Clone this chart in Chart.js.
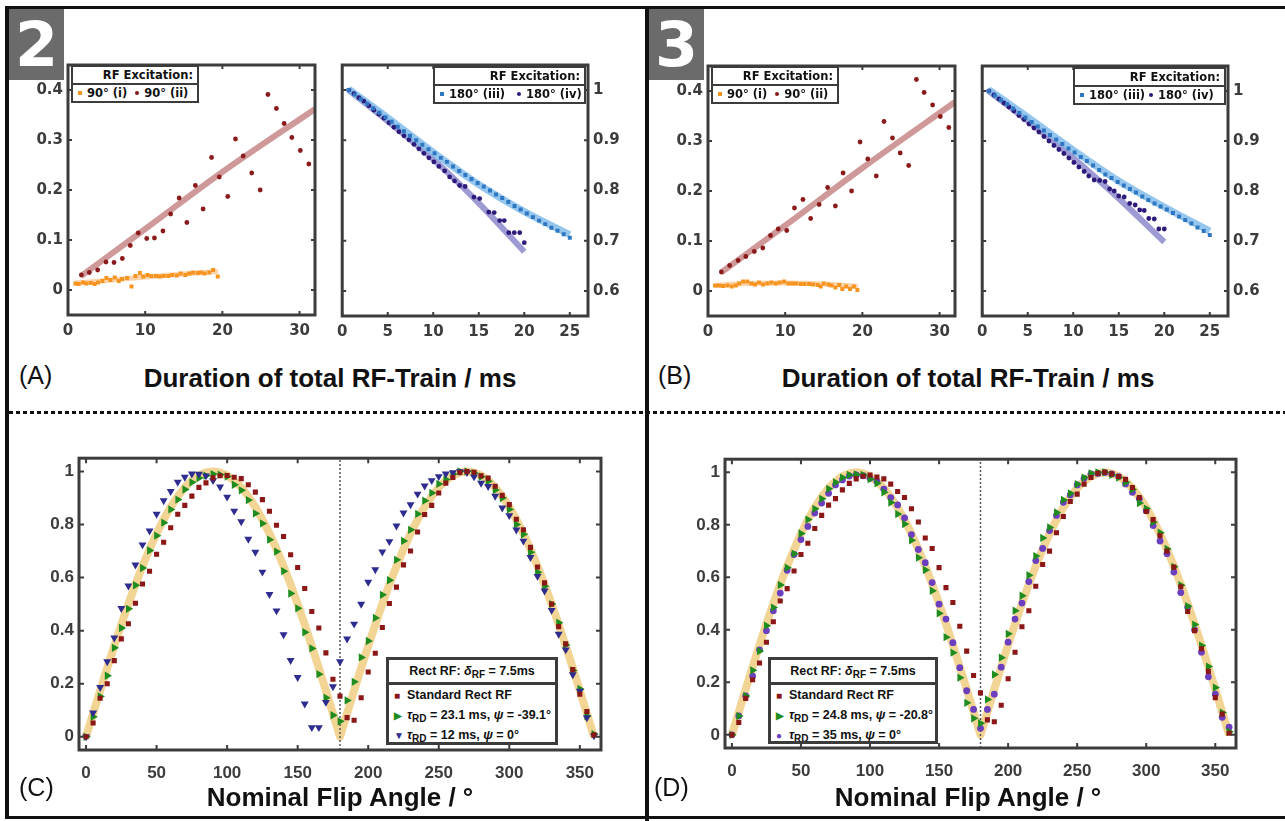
<!DOCTYPE html>
<html>
<head>
<meta charset="utf-8">
<title>RF train decay and flip angle response</title>
<script src="https://cdn.jsdelivr.net/npm/chart.js@4.4.1/dist/chart.umd.min.js"></script>
<style>
  html, body { margin: 0; padding: 0; background: #fff; }
  #page { position: relative; width: 1285px; height: 821px; overflow: hidden; background: #fff; font-family: "Liberation Sans", Arial, sans-serif; color: #111; }
  #page canvas { position: absolute; }
  .rule { position: absolute; background: #111; }
  .dots { position: absolute; height: 3px; background: repeating-linear-gradient(to right, #111 0 4px, transparent 4px 7px); }
  .badge { position: absolute; width: 55px; height: 71px; background: #6b6b6b; color: #fff; font: bold 62px "DejaVu Sans", sans-serif; text-align: center; line-height: 71px; }
  .tag { position: absolute; font-size: 25px; line-height: 28px; }
  .xtitle { position: absolute; font-weight: bold; font-size: 26px; line-height: 30px; white-space: nowrap; transform: translateX(-50%); }
  .lg { position: absolute; box-sizing: border-box; background: #fff; border: 2px solid #3c3c3c; font: bold 11.5px "DejaVu Sans", sans-serif; white-space: nowrap; }
  .lg .t { height: 16px; line-height: 16px; border-bottom: 2px solid #3c3c3c; text-align: right; padding-right: 4px; }
  .lg .r { height: 17px; line-height: 17px; padding-left: 5px; }
  .lg .m { display: inline-block; width: 4px; height: 4px; vertical-align: 2px; margin-right: 5px; }
  .lg .c { border-radius: 50%; }
  .lg2 { position: absolute; box-sizing: border-box; background: #fff; border: 3px solid #3c3c3c; font: bold 12.5px "Liberation Sans", Arial, sans-serif; white-space: nowrap; overflow: hidden; }
  .lg2 .t { height: 22px; line-height: 22px; border-bottom: 3px solid #3c3c3c; text-align: center; }
  .lg2 .r { height: 20px; line-height: 20px; padding-left: 5px; }
  .lg2 .m { display: inline-block; width: 13px; font-size: 10px; }
  .lg2 sub { font-size: 10px; vertical-align: -3px; line-height: 0; }
</style>
</head>
<body>
<div id="page">
  <div class="rule" style="left:5px;top:6px;width:1280px;height:3px"></div>
  <div class="rule" style="left:5px;top:6px;width:4px;height:813px"></div>
  <div class="rule" style="left:645px;top:6px;width:4px;height:815px"></div>
  <div class="rule" style="left:5px;top:816px;width:1280px;height:3px"></div>
  <div class="dots" style="left:9px;top:411px;width:1276px"></div>

  <div class="badge" style="left:9px;top:9px">2</div>
  <div class="badge" style="left:649px;top:9px">3</div>

  <canvas id="a1"></canvas>
  <canvas id="a2"></canvas>
  <canvas id="b1"></canvas>
  <canvas id="b2"></canvas>
  <canvas id="c1"></canvas>
  <canvas id="d1"></canvas>

  <div class="tag" style="left:19px;top:361px">(A)</div>
  <div class="xtitle" style="left:330px;top:363px">Duration of total RF-Train / ms</div>
  <div class="tag" style="left:658px;top:361px">(B)</div>
  <div class="xtitle" style="left:968px;top:363px">Duration of total RF-Train / ms</div>
  <div class="tag" style="left:19px;top:773px">(C)</div>
  <div class="xtitle" style="left:340px;top:782px">Nominal Flip Angle / °</div>
  <div class="tag" style="left:654px;top:773px">(D)</div>
  <div class="xtitle" style="left:968px;top:782px">Nominal Flip Angle / °</div>

  <div class="lg" style="left:71px;top:65px;width:128px;height:38px">
    <div class="t">RF Excitation:</div>
    <div class="r"><span class="m" style="background:#f7931e"></span>90° (i)&nbsp;&nbsp;<span class="m c" style="background:#8b1a1a"></span>90° (ii)</div>
  </div>
  <div class="lg" style="left:433px;top:66px;width:153px;height:38px">
    <div class="t">RF Excitation:</div>
    <div class="r"><span class="m" style="background:#2f76c3"></span>180° (iii)&nbsp;&nbsp;&nbsp;<span class="m c" style="background:#2e1a7a"></span>180° (iv)</div>
  </div>
  <div class="lg" style="left:711px;top:66px;width:128px;height:38px">
    <div class="t">RF Excitation:</div>
    <div class="r"><span class="m" style="background:#f7931e"></span>90° (i)&nbsp;&nbsp;<span class="m c" style="background:#8b1a1a"></span>90° (ii)</div>
  </div>
  <div class="lg" style="left:1073px;top:67px;width:153px;height:38px">
    <div class="t">RF Excitation:</div>
    <div class="r"><span class="m" style="background:#2f76c3"></span>180° (iii)&nbsp;<span class="m c" style="background:#2e1a7a"></span>180° (iv)</div>
  </div>

  <div class="lg2" style="left:386px;top:657px;width:172px;height:88px">
    <div class="t">Rect RF: <i>δ</i><sub>RF</sub> = 7.5ms</div>
    <div class="r"><span class="m" style="color:#8c1717">■</span>Standard Rect RF</div>
    <div class="r"><span class="m" style="color:#1e8c1e">▶</span><i>τ</i><sub>RD</sub> = 23.1 ms, <i>ψ</i> = -39.1°</div>
    <div class="r"><span class="m" style="color:#2f2c8f">▼</span><i>τ</i><sub>RD</sub> = 12 ms, <i>ψ</i> = 0°</div>
  </div>
  <div class="lg2" style="left:768px;top:657px;width:170px;height:87px">
    <div class="t">Rect RF: <i>δ</i><sub>RF</sub> = 7.5ms</div>
    <div class="r"><span class="m" style="color:#8c1717">■</span>Standard Rect RF</div>
    <div class="r"><span class="m" style="color:#1e8c1e">▶</span><i>τ</i><sub>RD</sub> = 24.8 ms, <i>ψ</i> = -20.8°</div>
    <div class="r"><span class="m" style="color:#6b3fc0">●</span><i>τ</i><sub>RD</sub> = 35 ms, <i>ψ</i> = 0°</div>
  </div>
</div>

<script>
// ---- tick labels ----
const durTicks = [0, 10, 20, 30];
const durTicksShort = [0, 5, 10, 15, 20, 25];
const sigTicksLow = [0, 0.1, 0.2, 0.3, 0.4];
const sigTicksHigh = [0.6, 0.7, 0.8, 0.9, 1];
const angleTicks = [0, 50, 100, 150, 200, 250, 300, 350];
const ampTicks = [0, 0.2, 0.4, 0.6, 0.8, 1];

// ---- panel A (set 2) ----
const a90iX = [0.95, 1.39, 1.95, 2.38, 2.94, 3.46, 3.9, 4.46, 4.98, 5.5, 6.06, 6.58, 7.01, 7.66, 8.23, 8.74, 9.31, 9.74, 10.3, 10.8, 11.4, 11.9, 12.4, 13.0, 13.5, 14.1, 14.6, 15.2, 15.7, 16.2, 16.8, 17.2, 17.7, 18.3, 18.8, 19.4];
const a90iY = [.013, .012, .015, .013, .014, .012, .015, .018, .024, .020, .025, .018, .022, .024, .007, .028, .034, .027, .030, .028, .028, .027, .028, .028, .030, .029, .033, .030, .033, .035, .034, .035, .033, .035, .040, .027];
const a90iFitX = [0.9, 5, 10, 15, 19.4];
const a90iFitY = [.014, .019, .026, .032, .037];
const a90iiX = [1.73, 2.76, 3.84, 4.92, 5.96, 7.04, 8.07, 9.1, 10.2, 11.2, 12.3, 13.3, 14.4, 15.4, 16.5, 17.5, 18.6, 19.6, 20.7, 21.7, 22.7, 23.8, 24.9, 25.9, 27.0, 28.0, 29.0, 30.1, 31.2];
const a90iiY = [.030, .035, .040, .056, .055, .063, .089, .114, .103, .104, .118, .152, .184, .135, .209, .162, .265, .226, .187, .302, .268, .234, .200, .391, .363, .333, .305, .279, .252];
const a90iiFitX = [1.7, 10, 20, 32];
const a90iiFitY = [.028, .122, .236, .362];

const a180iiiX = [0.7, 1.38, 2.05, 2.73, 3.4, 4.08, 4.75, 5.43, 6.1, 6.78, 7.45, 8.13, 8.8, 9.48, 10.15, 10.83, 11.5, 12.18, 12.85, 13.53, 14.2, 14.88, 15.55, 16.23, 16.9, 17.58, 18.25, 18.93, 19.6, 20.28, 20.95, 21.63, 22.3, 22.98, 23.65, 24.33, 25.0];
const a180iiiY = [1.0, .991, .982, .973, .964, .955, .946, .937, .927, .918, .909, .9, .891, .882, .874, .865, .857, .848, .839, .831, .823, .815, .808, .8, .792, .785, .777, .769, .762, .754, .747, .74, .733, .726, .72, .713, .706];
const a180iiiFitX = [0.7, 5, 10, 15, 20, 25];
const a180iiiFitY = [1.002, .945, .876, .812, .758, .712];
const a180ivX = [0.73, 1.28, 1.83, 2.38, 2.93, 3.48, 4.03, 4.58, 5.13, 5.68, 6.23, 6.78, 7.33, 7.88, 8.42, 8.97, 9.52, 10.07, 10.62, 11.25, 11.8, 12.34, 12.9, 13.5, 14.47, 15.1, 16.1, 16.7, 17.3, 17.8, 18.3, 18.9, 19.5, 20.0];
const a180ivY = [1.0, .993, .985, .978, .969, .96, .952, .944, .935, .926, .917, .909, .901, .892, .883, .874, .865, .857, .848, .839, .827, .819, .81, .808, .787, .784, .757, .756, .74, .74, .716, .716, .716, .696];
const a180ivFitX = [0.7, 5, 10, 15, 20];
const a180ivFitY = [1.0, .938, .862, .775, .678];

// ---- panel B (set 3) ----
const b90iX = [0.91, 1.43, 1.95, 2.51, 3.07, 3.59, 4.02, 4.54, 5.1, 5.62, 6.09, 6.61, 7.13, 7.69, 8.21, 8.77, 9.29, 9.85, 10.4, 10.9, 11.4, 12.0, 12.5, 13.1, 13.6, 14.2, 14.6, 15.0, 15.6, 16.0, 16.5, 17.0, 17.4, 17.9, 18.4, 18.9, 19.35];
const b90iY = [.011, .011, .010, .011, .009, .011, .015, .019, .019, .015, .013, .017, .013, .015, .017, .015, .017, .019, .015, .015, .015, .014, .014, .014, .013, .012, .009, .015, .013, .011, .007, .012, .004, .009, .004, .009, .002];
const b90iFitX = [0.9, 5, 10, 15, 19.4];
const b90iFitY = [.011, .015, .016, .014, .009];
const b90iiX = [1.73, 2.8, 3.9, 4.9, 6.0, 7.1, 8.1, 9.1, 10.2, 11.2, 12.3, 13.3, 14.4, 15.5, 16.5, 17.5, 18.6, 19.7, 20.7, 21.8, 22.8, 23.9, 24.9, 26.0, 27.0, 28.0, 29.1, 30.1, 31.2];
const b90iiY = [.038, .051, .061, .069, .079, .086, .111, .124, .121, .166, .183, .145, .173, .207, .170, .236, .200, .298, .264, .230, .339, .306, .276, .251, .423, .397, .372, .349, .327];
const b90iiFitX = [1.7, 10, 20, 32];
const b90iiFitY = [.037, .131, .246, .378];

const b180iiiX = a180iiiX;
const b180iiiY = [1.0, .991, .982, .974, .965, .956, .947, .938, .929, .921, .912, .903, .894, .885, .877, .868, .86, .851, .842, .833, .826, .818, .811, .804, .797, .789, .782, .775, .769, .763, .756, .749, .742, .735, .727, .72, .712];
const b180iiiFitX = [0.7, 5, 10, 15, 20, 25];
const b180iiiFitY = [1.003, .948, .882, .82, .768, .72];
const b180ivX = [0.73, 1.28, 1.83, 2.38, 2.93, 3.48, 4.03, 4.58, 5.13, 5.68, 6.23, 6.78, 7.33, 7.88, 8.42, 8.97, 9.52, 10.07, 10.62, 11.2, 11.7, 12.3, 12.9, 13.5, 14.0, 14.5, 15.0, 15.6, 16.2, 16.8, 17.3, 17.8, 18.3, 18.9, 19.4, 20.0];
const b180ivY = [1.0, .992, .984, .976, .968, .96, .951, .943, .934, .926, .918, .909, .9, .891, .883, .875, .866, .857, .848, .839, .83, .822, .821, .819, .804, .80, .79, .788, .775, .772, .762, .761, .745, .744, .724, .724];
const b180ivFitX = [0.7, 5, 10, 15, 20];
const b180ivFitY = [1.0, .94, .866, .785, .698];

// ---- panels C and D: flip angle sweep ----
const angles = [0, 5, 10, 15, 20, 25, 30, 35, 40, 45, 50, 55, 60, 65, 70, 75, 80, 85, 90, 95,
  100, 105, 110, 115, 120, 125, 130, 135, 140, 145, 150, 155, 160, 165, 170, 175, 180, 185, 190, 195,
  200, 205, 210, 215, 220, 225, 230, 235, 240, 245, 250, 255, 260, 265, 270, 275, 280, 285, 290, 295,
  300, 305, 310, 315, 320, 325, 330, 335, 340, 345, 350, 355, 360];
const ideal = [0, .087, .174, .259, .342, .423, .5, .574, .643, .707, .766, .819, .866, .906, .94, .966, .985, .996, 1, .996,
  .985, .966, .94, .906, .866, .819, .766, .707, .643, .574, .5, .423, .342, .259, .174, .087, 0, .087, .174, .259,
  .342, .423, .5, .574, .643, .707, .766, .819, .866, .906, .94, .966, .985, .996, 1, .996, .985, .966, .94, .906,
  .866, .819, .766, .707, .643, .574, .5, .423, .342, .259, .174, .087, 0];
const markerAngle = [180, 180];
const markerSpan = [-0.05, 1.05];

const cRect = [0, .052, .145, .20, .287, .369, .426, .503, .576, .624, .688, .733, .788, .839, .872, .907, .94, .957, .976, .984,
  .985, .978, .973, .95, .922, .894, .85, .797, .755, .686, .638, .559, .472, .41, .316, .217, .153, .072, .062, .147,
  .244, .315, .412, .502, .564, .648, .70, .772, .838, .872, .919, .956, .977, .996, 1.0, .997, .984, .975, .944, .91,
  .875, .82, .78, .714, .64, .58, .50, .415, .35, .253, .16, .095, .007];
const cTau23 = [0, .075, .152, .23, .335, .41, .482, .571, .636, .702, .758, .807, .857, .894, .932, .959, .975, .984, .99, .988,
  .981, .95, .929, .892, .842, .804, .743, .698, .624, .54, .484, .394, .333, .236, .147, .081, .058, .137, .207, .299,
  .361, .448, .535, .59, .667, .738, .78, .84, .89, .919, .953, .97, .99, 1.0, 1.0, .994, .98, .963, .93, .90,
  .857, .80, .763, .695, .62, .567, .50, .43, .346, .25, .18, .078, .01];
const cTau12 = [0, .09, .186, .283, .373, .484, .569, .648, .724, .776, .839, .89, .925, .96, .979, .991, .99, .984, .966, .942,
  .904, .851, .811, .745, .696, .621, .537, .475, .385, .288, .224, .124, .035, .035, .13, .189, .283, .369, .425, .50,
  .583, .63, .697, .736, .795, .844, .875, .915, .946, .966, .981, .991, .996, 1.0, .996, .98, .956, .944, .907, .863,
  .834, .78, .738, .676, .605, .55, .477, .387, .328, .234, .172, .072, .004];

const dRect = [0, .047, .139, .21, .274, .353, .431, .51, .557, .624, .687, .73, .786, .836, .875, .90, .933, .958, .975, .985,
  .99, .982, .975, .955, .927, .904, .861, .811, .75, .71, .637, .561, .504, .414, .319, .226, .16, .057, .05, .113,
  .214, .315, .412, .473, .566, .649, .70, .77, .832, .889, .917, .955, .98, .996, 1.0, .994, .984, .973, .942, .904,
  .851, .82, .759, .70, .639, .564, .47, .397, .328, .242, .142, .079, .006];
const dTau24 = [0, .072, .148, .246, .319, .416, .485, .571, .637, .69, .767, .82, .861, .899, .937, .962, .98, .99, .992, .99,
  .974, .958, .924, .885, .841, .803, .741, .675, .628, .549, .463, .372, .313, .218, .122, .063, .044, .135, .23, .294,
  .385, .473, .53, .608, .681, .75, .79, .847, .895, .92, .955, .98, .996, 1.0, 1.0, .99, .98, .962, .935, .883,
  .862, .81, .77, .708, .64, .57, .49, .42, .34, .26, .18, .085, .012];
const dTau35 = [0, .072, .148, .224, .324, .397, .473, .54, .627, .687, .744, .794, .845, .883, .92, .952, .971, .986, .99, .987,
  .977, .965, .936, .904, .876, .826, .763, .706, .656, .58, .498, .441, .351, .256, .168, .097, .025, .097, .155, .258,
  .353, .441, .502, .584, .664, .71, .778, .836, .886, .914, .952, .977, .994, .996, .999, .994, .984, .956, .924, .899,
  .854, .797, .738, .69, .62, .542, .486, .40, .315, .221, .155, .067, .029];

// ---- helpers ----
const PAD = 12;
const AXIS = '#3c3c3c';
const pts = (xs, ys) => xs.map((x, i) => ({ x, y: ys[i] }));

const dots = (xs, ys, color, style, radius, rotation = 0) => ({
  data: pts(xs, ys), backgroundColor: color, borderColor: color, borderWidth: 0,
  pointStyle: style, pointRadius: radius, pointRotation: rotation, showLine: false, order: 1,
});
const fit = (xs, ys, color, width) => ({
  data: pts(xs, ys), borderColor: color, borderWidth: width, pointRadius: 0, showLine: true,
  tension: 0.4, cubicInterpolationMode: 'monotone', borderCapStyle: 'butt', order: 5,
});
const curve = (xs, ys, color, width, dash) => ({
  data: pts(xs, ys), borderColor: color, borderWidth: width, pointRadius: 0, showLine: true,
  tension: 0, borderDash: dash || [], borderJoinStyle: 'round', order: 5,
});

// matlab style box with inward ticks on all four sides
const boxAxes = {
  id: 'boxAxes',
  afterDatasetsDraw(chart, args, o) {
    const { ctx, chartArea: a, scales: { x, y } } = chart;
    ctx.save();
    ctx.strokeStyle = AXIS;
    ctx.lineWidth = 2;
    ctx.beginPath();
    x.ticks.forEach((t, i) => {
      const px = x.getPixelForTick(i);
      ctx.moveTo(px, a.bottom); ctx.lineTo(px, a.bottom - o.len);
      ctx.moveTo(px, a.top); ctx.lineTo(px, a.top + o.len);
    });
    y.ticks.forEach((t, i) => {
      const py = y.getPixelForTick(i);
      ctx.moveTo(a.left, py); ctx.lineTo(a.left + o.len, py);
      ctx.moveTo(a.right, py); ctx.lineTo(a.right - o.len, py);
    });
    ctx.stroke();
    ctx.lineWidth = o.width;
    ctx.strokeRect(a.left, a.top, a.right - a.left, a.bottom - a.top);
    ctx.restore();
  },
};

function plot(id, box, cfg) {
  const canvas = document.getElementById(id);
  const left = cfg.yPos === 'left';
  canvas.width = box.r - box.l + 2 * PAD + cfg.yW;
  canvas.height = box.b - box.t + 2 * PAD + cfg.xH;
  canvas.style.left = (box.l - PAD - (left ? cfg.yW : 0)) + 'px';
  canvas.style.top = (box.t - PAD) + 'px';
  const tickFont = cfg.font;
  new Chart(canvas, {
    type: 'scatter',
    data: { datasets: cfg.datasets },
    options: {
      responsive: false, animation: false, devicePixelRatio: 1,
      layout: { padding: PAD },
      plugins: { legend: { display: false }, tooltip: { enabled: false }, boxAxes: { width: 3, len: cfg.len } },
      scales: {
        x: {
          type: 'linear', min: cfg.x[0], max: cfg.x[1],
          grid: { display: false, drawTicks: false }, border: { display: false },
          afterBuildTicks: (s) => { s.ticks = cfg.xTicks.map((v) => ({ value: v })); },
          afterFit: (s) => { s.height = cfg.xH; },
          ticks: { padding: cfg.xPad, font: tickFont, color: AXIS, maxRotation: 0, autoSkip: false, callback: (v) => String(v) },
        },
        y: {
          type: 'linear', position: cfg.yPos, min: cfg.y[0], max: cfg.y[1],
          grid: { display: false, drawTicks: false }, border: { display: false },
          afterBuildTicks: (s) => { s.ticks = cfg.yTicks.map((v) => ({ value: v })); },
          afterFit: (s) => { s.width = cfg.yW; },
          ticks: { padding: 5, font: tickFont, color: AXIS, autoSkip: false, callback: (v) => String(v) },
        },
      },
    },
    plugins: [boxAxes],
  });
}

const topFont = { family: '"DejaVu Sans", sans-serif', size: 15, weight: 'bold' };
const botFont = { family: '"Liberation Sans", Arial, sans-serif', size: 17, weight: 'bold' };
const ORANGE = '#f7931e', ORANGE_FIT = 'rgba(251, 196, 140, 0.75)';
const RED = '#8b1a1a', RED_FIT = 'rgba(196, 128, 128, 0.8)';
const BLUE = '#2f76c3', BLUE_FIT = 'rgba(130, 188, 234, 0.85)';
const INDIGO = '#2e1a7a', INDIGO_FIT = 'rgba(140, 136, 205, 0.85)';
const SQ = '#8c1717', GREEN = '#1e8c1e', NAVY = '#2f2c8f', PURPLE = '#6b3fc0', SAND = 'rgba(240, 204, 130, 0.85)';

const lowCfg = { yPos: 'left', yW: 40, xH: 24, xPad: 7, len: 4, font: topFont, x: [0, 32], y: [-0.05, 0.45], xTicks: durTicks, yTicks: sigTicksLow };
const highCfg = { yPos: 'right', yW: 40, xH: 24, xPad: 7, len: 4, font: topFont, x: [0, 27], y: [0.55, 1.05], xTicks: durTicksShort, yTicks: sigTicksHigh };
const flipCfg = { yPos: 'left', yW: 40, xH: 30, xPad: 13, len: 5, font: botFont, x: [-5, 365], y: [-0.05, 1.05], xTicks: angleTicks, yTicks: ampTicks };

plot('a1', { l: 68, t: 63, r: 315, b: 315 }, { ...lowCfg, datasets: [
  fit(a90iFitX, a90iFitY, ORANGE_FIT, 5),
  fit(a90iiFitX, a90iiFitY, RED_FIT, 6),
  dots(a90iX, a90iY, ORANGE, 'rect', 2.8),
  dots(a90iiX, a90iiY, RED, 'circle', 2.4),
] });
plot('a2', { l: 342, t: 63, r: 588, b: 316 }, { ...highCfg, datasets: [
  fit(a180iiiFitX, a180iiiFitY, BLUE_FIT, 7),
  fit(a180ivFitX, a180ivFitY, INDIGO_FIT, 6),
  dots(a180iiiX, a180iiiY, BLUE, 'rect', 2.8),
  dots(a180ivX, a180ivY, INDIGO, 'circle', 2.4),
] });
plot('b1', { l: 708, t: 64, r: 955, b: 316 }, { ...lowCfg, datasets: [
  fit(b90iFitX, b90iFitY, ORANGE_FIT, 5),
  fit(b90iiFitX, b90iiFitY, RED_FIT, 6),
  dots(b90iX, b90iY, ORANGE, 'rect', 2.8),
  dots(b90iiX, b90iiY, RED, 'circle', 2.4),
] });
plot('b2', { l: 982, t: 64, r: 1228, b: 316 }, { ...highCfg, datasets: [
  fit(b180iiiFitX, b180iiiFitY, BLUE_FIT, 7),
  fit(b180ivFitX, b180ivFitY, INDIGO_FIT, 6),
  dots(b180iiiX, b180iiiY, BLUE, 'rect', 2.8),
  dots(b180ivX, b180ivY, INDIGO, 'circle', 2.4),
] });
plot('c1', { l: 79, t: 455, r: 601, b: 750 }, { ...flipCfg, datasets: [
  curve(markerAngle, markerSpan, '#555', 1.5, [2, 2]),
  curve(angles, ideal, SAND, 8),
  dots(angles, cRect, SQ, 'rect', 3.6),
  dots(angles, cTau12, NAVY, 'triangle', 4.6, 180),
  dots(angles, cTau23, GREEN, 'triangle', 4.8, 90),
] });
plot('d1', { l: 725, t: 456, r: 1236, b: 748 }, { ...flipCfg, datasets: [
  curve(markerAngle, markerSpan, '#555', 1.5, [2, 2]),
  curve(angles, ideal, SAND, 8),
  dots(angles, dRect, SQ, 'rect', 3.6),
  dots(angles, dTau24, GREEN, 'triangle', 4.8, 90),
  dots(angles, dTau35, PURPLE, 'circle', 3.4),
] });
</script>
</body>
</html>
